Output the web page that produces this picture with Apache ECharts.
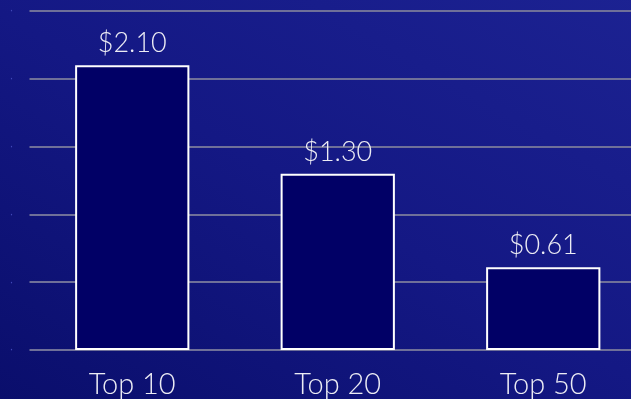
<!DOCTYPE html>
<html><head><meta charset="utf-8">
<script src="https://cdn.jsdelivr.net/npm/echarts@6/dist/echarts.min.js"></script>
<style>html,body{margin:0;padding:0;overflow:hidden;width:631px;height:399px;}#c{width:646px;height:399px;background:linear-gradient(30deg,#0a0e6c 0%,#141884 50%,#1c2292 100%);}</style>
</head><body><div id="c"></div>
<script>
const categories = ['Top 10', 'Top 20', 'Top 50'];
const values = [2.10, 1.30, 0.61];
const yTicks = [0, 0.5, 1.0, 1.5, 2.0, 2.5];

const chart = echarts.init(document.getElementById('c'), null, {renderer: 'canvas'});
chart.setOption({
  backgroundColor: 'transparent',
  animation: false,
  grid: {left: 29.5, right: 0, top: 11, bottom: 44, containLabel: false},
  xAxis: {
    type: 'category', data: categories,
    axisLine: {show: false}, axisTick: {show: false},
    axisLabel: {color: '#ececf4', fontFamily: 'Lato', fontWeight: 300, fontSize: 29, margin: 20}
  },
  yAxis: {
    type: 'value', min: yTicks[0], max: yTicks[yTicks.length - 1], interval: 0.5,
    axisLine: {show: false}, axisTick: {show: false},
    splitLine: {lineStyle: {color: '#6f7099', width: 2}},
    axisLabel: {formatter: () => '·', color: '#4048b8', fontSize: 12, margin: 16}
  },
  series: [{
    type: 'bar', data: values, barWidth: '55.6%',
    itemStyle: {color: '#010066', borderColor: '#ffffff', borderWidth: 2},
    label: {show: true, position: 'top', distance: 8, color: '#ececf4', fontFamily: 'Lato', fontWeight: 300, fontSize: 27,
      formatter: p => '$' + p.value.toFixed(2)}
  }]
});
</script></body></html>
